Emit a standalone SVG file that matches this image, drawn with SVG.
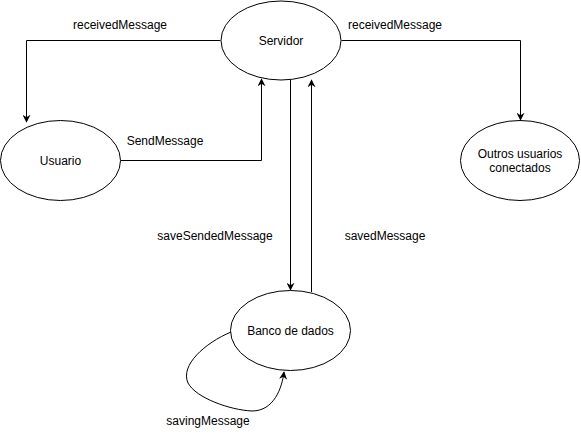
<svg xmlns="http://www.w3.org/2000/svg" width="581" height="441" viewBox="0 0 581 441">
<defs>
<style>
.node{fill:#ffffff;stroke:#000000;stroke-width:1}
.edge{fill:none;stroke:#000000;stroke-width:1}
text{font-family:"Liberation Sans",Arial,sans-serif;font-size:12px;fill:#000000;text-anchor:middle}
</style>
<marker id="arr" viewBox="0 0 10 10" refX="9" refY="5" markerWidth="8" markerHeight="8" markerUnits="userSpaceOnUse" orient="auto">
<path d="M0,0 L10,5 L0,10 L3,5 Z" fill="#000"/>
</marker>
</defs>
<rect width="581" height="441" fill="#ffffff"/>
<g id="connectors">
<path class="edge" d="M220.5,40.5 H26.5 V122" marker-end="url(#arr)"/>
<path class="edge" d="M120.5,160.5 H261.5 V79" marker-end="url(#arr)"/>
<path class="edge" d="M341.5,40.5 H520.5 V120" marker-end="url(#arr)"/>
<path class="edge" d="M290.5,80 V290" marker-end="url(#arr)"/>
<path class="edge" d="M311.5,292 V80" marker-end="url(#arr)"/>
<path class="edge" d="M231,332 C205,343 180,365 188,383 C196,398 230,410 252,411 C274,411 282,388 284,372" marker-end="url(#arr)"/>
<text x="120" y="29">receivedMessage</text>
<text x="395" y="29">receivedMessage</text>
<text x="165" y="145">SendMessage</text>
<text x="215" y="240">saveSendedMessage</text>
<text x="385" y="240">savedMessage</text>
<text x="208" y="425">savingMessage</text>
</g>
<g id="servidor">
<ellipse class="node" cx="281" cy="40.5" rx="60" ry="39.5"/>
<text x="281" y="44.5">Servidor</text>
</g>
<g id="usuario">
<ellipse class="node" cx="60.5" cy="160.5" rx="60" ry="40"/>
<text x="60.5" y="164.5">Usuario</text>
</g>
<g id="outros">
<ellipse class="node" cx="520" cy="160.5" rx="59.5" ry="40"/>
<text x="520" y="158">Outros usuarios</text>
<text x="520" y="172">conectados</text>
</g>
<g id="banco">
<ellipse class="node" cx="290.5" cy="330.5" rx="60" ry="40"/>
<text x="290.5" y="334.5">Banco de dados</text>
</g>
</svg>
